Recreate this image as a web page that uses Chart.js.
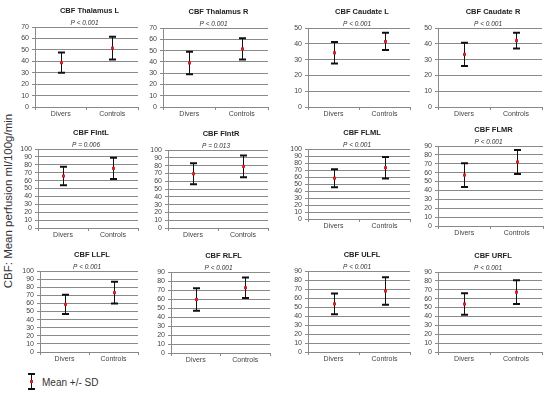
<!DOCTYPE html>
<html>
<head>
<meta charset="utf-8">
<script src="https://cdn.jsdelivr.net/npm/chart.js@4/dist/chart.umd.min.js"></script>
<style>
  body { margin: 0; background: #fff; }
  #wrap { position: relative; width: 550px; height: 395px; overflow: hidden; font-family: "Liberation Sans", Arial, sans-serif; }
  canvas { position: absolute; }
  #ytitle { position: absolute; left: 8px; top: 201px; transform: translate(-50%, -50%) rotate(-90deg); white-space: nowrap; font-size: 11.5px; color: #333; }
  #legend { position: absolute; left: 26px; top: 373px; font-size: 10px; color: #333; }
  #legend .bar { position: absolute; left: 5px; top: 1px; width: 1px; height: 15px; background: #111; }
  #legend .cap { position: absolute; left: 2px; width: 7px; height: 2px; background: #111; }
  #legend .dot { position: absolute; left: 4px; top: 7px; width: 3px; height: 3px; background: #e02020; }
  #legend span { position: absolute; left: 16px; top: 4px; white-space: nowrap; }
</style>
</head>
<body>
<div id="wrap">
  <div id="ytitle">CBF: Mean perfusion ml/100g/min</div>
  <div id="legend">
    <div class="bar"></div><div class="cap" style="top:0"></div><div class="cap" style="top:15px"></div><div class="dot"></div>
    <span>Mean +/- SD</span>
  </div>
</div>
<script>
// data
const categories = ['Divers', 'Controls'];
const titles = ['CBF Thalamus L', 'CBF Thalamus R', 'CBF Caudate L', 'CBF Caudate R',
                'CBF FIntL', 'CBF FIntR', 'CBF FLML', 'CBF FLMR',
                'CBF LLFL', 'CBF RLFL', 'CBF ULFL', 'CBF URFL'];
const pValues = ['< 0.001', '< 0.001', '< 0.001', '< 0.001',
                 '= 0.006', '= 0.013', '< 0.001', '< 0.001',
                 '< 0.001', '< 0.001', '< 0.001', '< 0.001'];
const yMax = [70, 70, 50, 50, 100, 100, 100, 90, 100, 90, 90, 90];
const diversMean = [38.8, 39, 34.3, 33.3, 65.8, 69.5, 58.3, 57.3, 58.8, 59.5, 53.5, 54];
const diversSD = [8.8, 10, 6.8, 7.3, 11.8, 13.5, 12.8, 13.3, 11.8, 12.5, 11.5, 12];
const controlsMean = [51.5, 51.5, 41.5, 42, 75.5, 79, 73.3, 72, 73.3, 72.5, 67.8, 67.3];
const controlsSD = [10, 9.5, 5.5, 5, 13.5, 14, 15.3, 13.5, 13.3, 11.5, 15.3, 13.3];

// plot-area boxes [left, top, right, bottom]
const boxes = [
  [35, 27, 138, 107], [163, 28, 268, 107], [308, 28, 410, 107], [438, 28, 542, 107],
  [38, 149, 138, 228], [168, 150, 268, 228], [308, 149, 410, 219], [438, 146, 543, 226],
  [40, 271, 138, 352], [171, 272, 270, 353], [308, 271, 410, 352], [438, 272, 542, 352]
];

const AXW = 26, TOP = 24, BOT = 16;
const font = '"Liberation Sans", Arial, sans-serif';

const errorBars = {
  id: 'errorBars',
  afterDatasetsDraw(chart, args, opts) {
    const ctx = chart.ctx;
    const x = chart.scales.x, y = chart.scales.y;
    ctx.save();
    opts.means.forEach((m, i) => {
      const px = Math.round(x.getPixelForValue(i)) + 0.5;
      const top = y.getPixelForValue(m + opts.sds[i]);
      const bot = y.getPixelForValue(m - opts.sds[i]);
      ctx.strokeStyle = '#111';
      ctx.lineWidth = 1;
      ctx.beginPath();
      ctx.moveTo(px, top);
      ctx.lineTo(px, bot);
      ctx.stroke();
      ctx.lineWidth = 2;
      ctx.beginPath();
      ctx.moveTo(px - 3.5, top); ctx.lineTo(px + 3.5, top);
      ctx.moveTo(px - 3.5, bot); ctx.lineTo(px + 3.5, bot);
      ctx.stroke();
      ctx.fillStyle = '#e02020';
      const py = y.getPixelForValue(m);
      ctx.fillRect(px - 1.5, py - 1.5, 3, 3);
    });
    // title and p value
    const a = chart.chartArea;
    const cx = (a.left + a.right) / 2;
    ctx.fillStyle = '#222';
    ctx.textAlign = 'center';
    ctx.textBaseline = 'middle';
    ctx.font = 'bold 7.5px ' + font;
    ctx.fillText(opts.title, cx + 3, a.top - 16);
    ctx.font = 'italic 6.5px ' + font;
    ctx.fillStyle = '#333';
    ctx.fillText('P ' + opts.p, cx - 2, a.top - 4);
    ctx.restore();
  }
};

const wrap = document.getElementById('wrap');

titles.forEach((t, i) => {
  const b = boxes[i];
  const cv = document.createElement('canvas');
  const w = b[2] - b[0] + AXW + 2;
  const h = b[3] - b[1] + TOP + BOT;
  cv.style.left = (b[0] - AXW) + 'px';
  cv.style.top = (b[1] - TOP) + 'px';
  cv.style.width = w + 'px';
  cv.style.height = h + 'px';
  cv.width = w; cv.height = h;
  wrap.appendChild(cv);

  const means = [diversMean[i], controlsMean[i]];
  const sds = [diversSD[i], controlsSD[i]];

  new Chart(cv.getContext('2d'), {
    type: 'line',
    data: {
      labels: categories,
      datasets: [{
        data: means,
        showLine: false,
        pointRadius: 0
      }]
    },
    options: {
      responsive: false,
      animation: false,
      layout: { padding: { top: TOP, right: 2, left: 0, bottom: 0 } },
      plugins: {
        legend: { display: false },
        tooltip: { enabled: false },
        errorBars: { means: means, sds: sds, title: t, p: pValues[i] }
      },
      scales: {
        x: {
          offset: true,
          grid: { offset: true, drawOnChartArea: false, tickLength: 3, color: '#888' },
          border: { color: '#888' },
          ticks: { color: '#444', font: { size: 7, family: font }, padding: 0 },
          afterFit(s) { s.height = BOT; }
        },
        y: {
          min: 0,
          max: yMax[i],
          ticks: { stepSize: 10, autoSkip: false, color: '#444', font: { size: 7, family: font }, padding: 3 },
          grid: { color: '#8a8a8a', tickLength: 3 },
          border: { color: '#8a8a8a' },
          afterFit(s) { s.width = AXW; }
        }
      }
    },
    plugins: [errorBars]
  });
});
</script>
</body>
</html>
